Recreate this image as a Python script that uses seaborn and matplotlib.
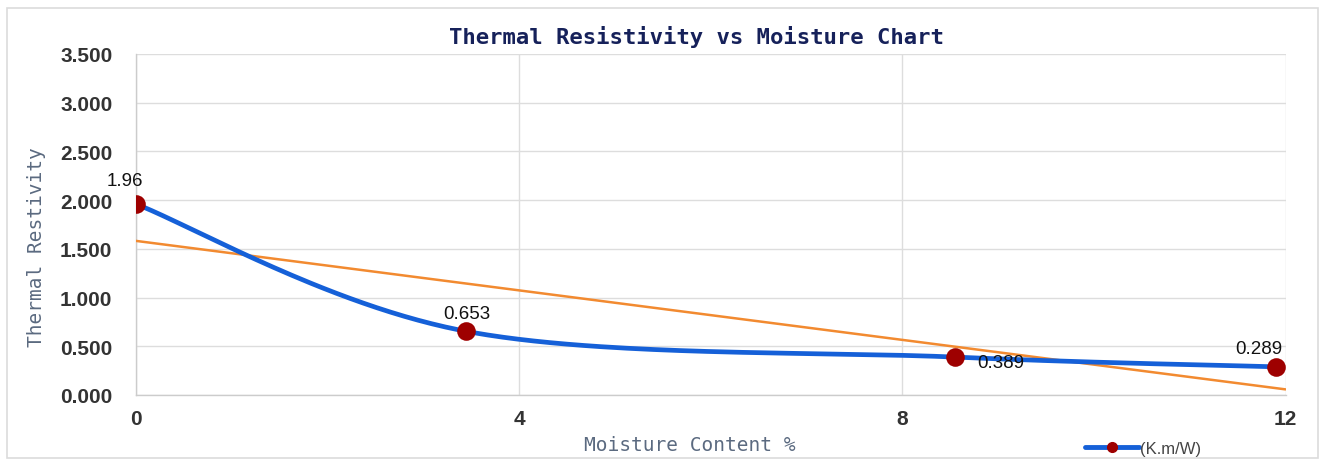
import numpy as np
import pandas as pd
import matplotlib
matplotlib.use("Agg")
import matplotlib.pyplot as plt
from matplotlib.patches import Rectangle
from matplotlib.lines import Line2D
import seaborn as sns

# Measured samples
moisture = [0.0, 3.45, 8.55, 11.9]
resistivity = [1.96, 0.653, 0.389, 0.289]
value_labels = ["1.96", "0.653", "0.389", "0.289"]
x_ticks = [0, 4, 8, 12]
y_ticks = [0.0, 0.5, 1.0, 1.5, 2.0, 2.5, 3.0, 3.5]

BLUE = "#1560d8"
ORANGE = "#f28a30"
RED = "#9e0000"


def smooth_curve(xs, ys, steps=60):
    """Cubic Bezier smoothing through each point (Catmull-Rom style)."""
    pts = np.column_stack([xs, ys]).astype(float)
    padded = np.vstack([pts[0], pts, pts[-1]])
    out = []
    t = np.linspace(0, 1, steps)[:, None]
    for i in range(len(pts) - 1):
        p0, p1, p2, p3 = padded[i], padded[i + 1], padded[i + 2], padded[i + 3]
        c1 = p1 + (p2 - p0) / 6.0
        c2 = p2 - (p3 - p1) / 6.0
        seg = ((1 - t) ** 3) * p1 + 3 * ((1 - t) ** 2) * t * c1 \
            + 3 * (1 - t) * t ** 2 * c2 + t ** 3 * p2
        out.append(seg if i == 0 else seg[1:])
    arr = np.vstack(out)
    return arr[:, 0], arr[:, 1]


sx, sy = smooth_curve(moisture, resistivity)
curve = pd.DataFrame({"x": sx, "y": sy})
points = pd.DataFrame({"x": moisture, "y": resistivity})

# Linear trend line over the axis range
slope, intercept = np.polyfit(moisture, resistivity, 1)
trend_x = np.array([0.0, 12.0])
trend = pd.DataFrame({"x": trend_x, "y": intercept + slope * trend_x})

sns.set_theme(style="white")
plt.rcParams["font.family"] = ["Liberation Sans", "DejaVu Sans"]

fig = plt.figure(figsize=(13.25, 4.64), dpi=100)
fig.patches.append(Rectangle((0.005, 0.01), 0.99, 0.97, transform=fig.transFigure,
                             fill=False, edgecolor="#dcdcdc", linewidth=1.2))
ax = fig.add_axes([0.1026, 0.1466, 0.8676, 0.7349])

sns.lineplot(data=trend, x="x", y="y", ax=ax, color=ORANGE, linewidth=1.8,
             zorder=3, legend=False)
sns.lineplot(data=curve, x="x", y="y", ax=ax, sort=False, estimator=None,
             color=BLUE, linewidth=3.4, zorder=4, legend=False)
sns.scatterplot(data=points, x="x", y="y", ax=ax, color=RED, s=180,
                edgecolor=RED, linewidth=0, zorder=5, legend=False)

# Value labels
offsets = [(-8, 17, "center"), (0, 13, "center"), (16, -4, "left"), (-12, 13, "center")]
for xv, yv, lab, (dx, dy, ha) in zip(moisture, resistivity, value_labels, offsets):
    ax.annotate(lab, (xv, yv), xytext=(dx, dy), textcoords="offset points",
                ha=ha, va="center", fontsize=13.5, color="#111111", zorder=6)

ax.set_xlim(0, 12)
ax.set_ylim(0, 3.5)
ax.set_xticks(x_ticks)
ax.set_yticks(y_ticks)
ax.set_yticklabels([f"{v:.3f}" for v in y_ticks])
ax.tick_params(axis="both", length=0, labelsize=15, labelcolor="#333333")
ax.tick_params(axis="x", pad=10)
ax.tick_params(axis="y", pad=17)
for lbl in ax.get_xticklabels() + ax.get_yticklabels():
    lbl.set_fontweight("bold")

ax.grid(True, color="#dddddd", linewidth=1.0)
ax.set_axisbelow(True)
for side in ["top", "right"]:
    ax.spines[side].set_visible(False)
for side in ["left", "bottom"]:
    ax.spines[side].set_color("#cccccc")
    ax.spines[side].set_linewidth(1.0)

mono = ["DejaVu Sans Mono"]
ax.set_title("Thermal Resistivity vs Moisture Chart", family=mono, fontsize=16,
             fontweight="bold", color="#16215a", x=0.488, pad=8)
ax.set_xlabel("Moisture Content %", family=mono, fontsize=14, color="#5b6a80")
ax.xaxis.set_label_coords(0.482, -0.118)
ax.set_ylabel("Thermal Restivity", family=mono, fontsize=14, color="#5b6a80")
ax.yaxis.set_label_coords(-0.078, 0.436)

# Legend entry below the plot
handle = Line2D([], [], color=BLUE, linewidth=3.5, marker="o", markersize=7,
                markerfacecolor=RED, markeredgecolor=RED)
fig.legend([handle], ["(K.m/W)"], loc="center", bbox_to_anchor=(0.863, 0.032),
           frameon=False, fontsize=12, handlelength=3.2, handletextpad=0.1,
           labelcolor="#444444")

fig.savefig("out.png", dpi=100)
